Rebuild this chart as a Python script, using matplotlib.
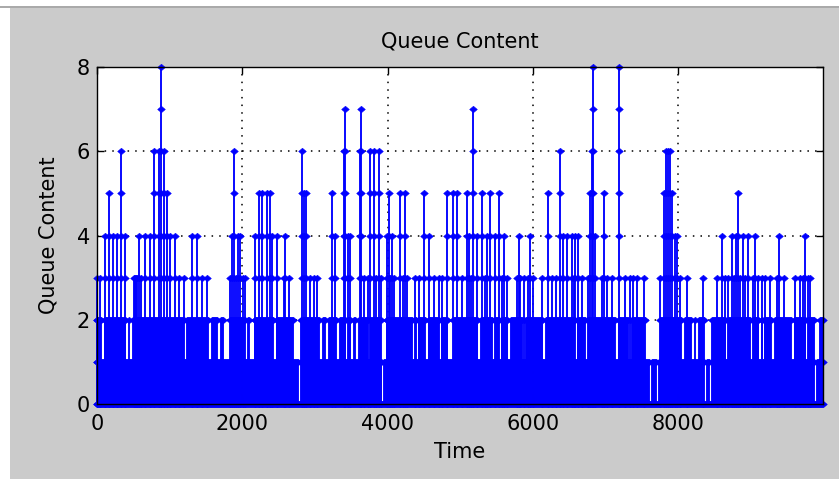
import numpy as np
import matplotlib
matplotlib.use("Agg")
import matplotlib.pyplot as plt
from matplotlib.path import Path
from matplotlib.patches import Rectangle
from matplotlib.lines import Line2D

# ---------------- data ----------------
title_text = "Queue Content"
x_label = "Time"
y_label = "Queue Content"
x_ticks = [0, 2000, 4000, 6000, 8000]
y_ticks = [0, 2, 4, 6, 8]
t_end = 9995

# dense background: queue flickers 0..2 in every pixel column
sample_dt = 13.76
base_level = 2

# bursts above 2: time and highest queue level reached
peak_t = [5, 45, 114, 169, 216, 275, 334, 389, 509, 523, 537, 550, 574, 605, 660, 729,
          780, 849, 881, 918, 963, 1000, 1069, 1124, 1193, 1307, 1376, 1445, 1514,
          1834, 1858, 1881, 1913, 1940, 1972, 2009, 2036, 2178, 2225, 2270, 2339, 2385,
          2408, 2477, 2569, 2591, 2638, 2820, 2855, 2880, 2935, 2982, 3027, 3234,
          3279, 3395, 3417, 3454, 3485, 3623, 3637, 3674, 3733, 3761, 3807, 3839, 3876,
          3908, 3990, 4014, 4036, 4059, 4087, 4173, 4211, 4242, 4266, 4380, 4435, 4495,
          4564, 4633, 4702, 4747, 4816, 4908,
          4954, 5022, 5091, 5123, 5150, 5183, 5229, 5298, 5343, 5366, 5412, 5481, 5528,
          5573, 5600, 5642, 5779, 5803, 5825, 5882, 5940, 5962, 5999, 6123, 6215, 6261,
          6316, 6375, 6421, 6467, 6536, 6564, 6577,
          6628, 6674, 6766, 6788, 6811, 6835, 6857, 6949, 6986, 7018, 7086, 7192, 7269,
          7338, 7385, 7430, 7526, 7751, 7801, 7829, 7860, 7888, 7915, 7953, 7981, 8026,
          8118,
          8348, 8531, 8600, 8645, 8692, 8738, 8766, 8793, 8821, 8858, 8890, 8921, 8968,
          9036, 9058, 9105, 9150, 9196, 9265, 9357, 9384, 9453, 9609, 9677, 9714, 9749,
          9791, 9818]
peak_q = [3, 3, 4, 5, 4, 4, 6, 4, 3, 3, 3, 3, 4, 3, 4, 4,
          6, 6, 8, 6, 5, 4, 4, 3, 3, 4, 4, 3, 3,
          3, 4, 6, 3, 4, 4, 3, 3, 4, 5, 5, 5, 5,
          4, 4, 3, 4, 3, 6, 5, 5, 3, 3, 3, 5,
          4, 6, 7, 4, 4, 6, 7, 3, 3, 6, 6, 3, 6,
          3, 4, 5, 3, 4, 3, 5, 3, 5, 3, 3, 3, 5,
          4, 3, 3, 3, 5, 5,
          5, 3, 5, 4, 3, 7, 4, 5, 3, 4, 5, 4, 5,
          3, 4, 3, 3, 4, 3, 3, 3, 4, 3, 3, 5, 3,
          3, 6, 4, 4, 4, 3, 4,
          4, 3, 3, 5, 6, 8, 4, 3, 5, 3, 3, 8, 3,
          3, 3, 3, 3, 3, 5, 6, 6, 6, 5, 4, 4, 3,
          3,
          3, 3, 4, 3, 3, 4, 3, 4, 5, 3, 4, 3, 4,
          3, 4, 3, 3, 3, 3, 3, 4, 3, 3, 3, 3, 4,
          3, 3]

# short intervals where the queue never reached 2 (white stripes in band 1-2)
low1_t = [78, 410, 472, 1215, 1559, 1675, 1757, 1789, 1812, 2050, 2123, 2150, 2450,
          2729, 2770, 3086, 3165, 3316, 3440, 3510, 3578, 3747, 3922, 3963, 4358, 4410,
          4541, 4724, 4839, 4880, 5252, 5459, 5550, 5665, 5871, 6147, 6590, 6738, 7160,
          7334, 7568, 7609, 7651, 7692, 7733, 8068, 8197, 8252, 8398, 8435, 8670, 9009,
          9123, 9171, 9306, 9581, 9770, 9925]
# short idle intervals (queue stayed at 0)
low0_t = [2780, 3935, 7618, 7709, 8375, 8444, 9884]

# ---------------- build the columns ----------------
base_t = np.arange(0, t_end, sample_dt)
base_q = np.full(base_t.shape, base_level)
for t in low1_t:
    m = np.abs(base_t - t) < 20
    base_q[m] = np.minimum(base_q[m], 1)
for t in low0_t:
    base_q[np.abs(base_t - t) < 14] = 0

col_t = np.concatenate([base_t, np.asarray(peak_t, float)])
col_q = np.concatenate([base_q, np.asarray(peak_q, int)])
order = np.argsort(col_t, kind="stable")
col_t, col_q = col_t[order], col_q[order]

mx, my = [], []
for t, q in zip(col_t, col_q):
    for lev in range(0, q + 1):
        mx.append(t)
        my.append(lev)

# ---------------- figure ----------------
plt.rcParams['font.family'] = ['DejaVu Sans']
W, H = 839, 479
fig = plt.figure(figsize=(W / 100, H / 100), dpi=100, facecolor='white')
fig.patches.append(Rectangle((10 / W, 0), 1, (H - 8) / H, transform=fig.transFigure,
                             facecolor='#cbcbcb', edgecolor='none', zorder=-10))
fig.lines.append(Line2D([0, 1], [(H - 7) / H, (H - 7) / H], transform=fig.transFigure,
                        color='#9a9a9a', lw=1.2, zorder=-9))

ax = fig.add_axes([97 / W, 1 - 404 / H, (823 - 97) / W, (404 - 67) / H])
ax.set_facecolor('white')

blue = '#0000ff'
# vertical excursions of the queue
ax.vlines(col_t, 0, col_q, colors=blue, lw=1.35, clip_on=False, zorder=3,
          capstyle='butt')
# idle baseline
ax.hlines(0, 0, t_end, colors=blue, lw=1.35, clip_on=False, zorder=3)

diamond = Path([(-1, 0), (0, 0.85), (1, 0), (0, -0.85), (-1, 0)],
               [Path.MOVETO, Path.LINETO, Path.LINETO, Path.LINETO, Path.CLOSEPOLY])
ax.plot(mx, my, ls='none', marker=diamond, ms=5.5, mfc=blue, mec=blue,
        mew=0.4, clip_on=False, zorder=3)

ax.set_xlim(0, t_end)
ax.set_ylim(0, 8)
ax.set_xticks(x_ticks)
ax.set_yticks(y_ticks)
ax.set_axisbelow(True)
ax.grid(True, color='black', linestyle=(0, (1, 4)), linewidth=1.1)
ax.tick_params(direction='in', top=True, right=True, length=5, width=1,
               labelsize=15, colors='black')
ax.tick_params(axis='x', pad=7)
ax.tick_params(axis='y', pad=5)
for s in ax.spines.values():
    s.set_linewidth(1.0)
    s.set_color('black')
    s.set_zorder(4)

ax.set_title(title_text, fontsize=15, pad=14)
ax.set_xlabel(x_label, fontsize=15, labelpad=6)
ax.set_ylabel(y_label, fontsize=15, labelpad=13)

fig.savefig('out.png', dpi=100, facecolor=fig.get_facecolor())
